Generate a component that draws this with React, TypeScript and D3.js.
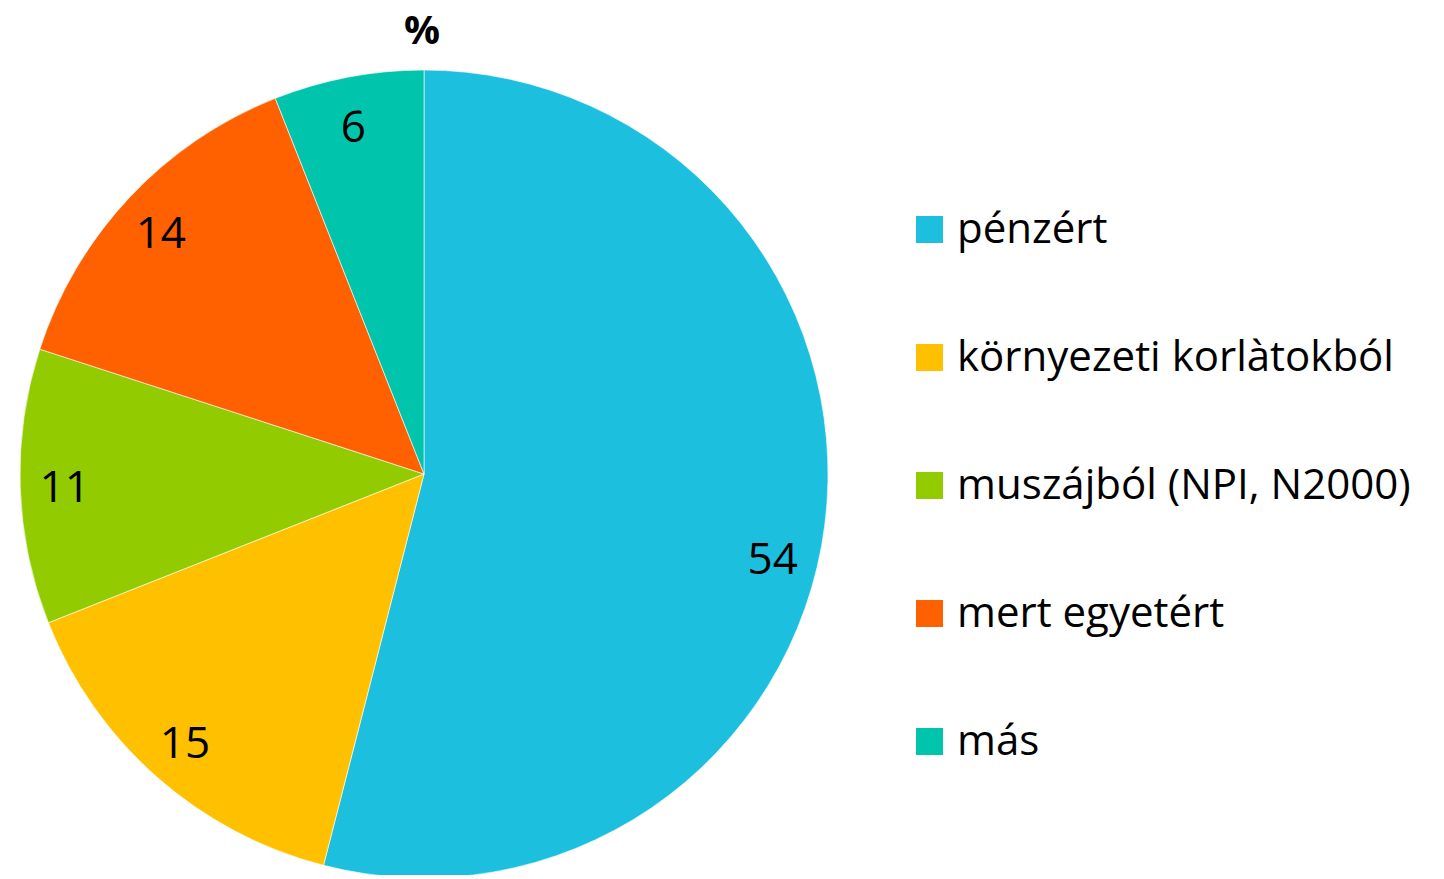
import React, { useEffect, useRef } from 'react';
import * as d3 from 'd3';

const categories = ['pénzért', 'környezeti korlàtokból', 'muszájból (NPI, N2000)', 'mert egyetért', 'más'];
const values = [54, 15, 11, 14, 6];
const colors = ['#1CBFDE', '#FFC000', '#92CC00', '#FF6000', '#00C4AB'];
const title = '%';

const App = () => {
  const ref = useRef<SVGSVGElement>(null);

  useEffect(() => {
    const width = 1444;
    const height = 879;
    const cx = 424;
    const cy = 474;
    const radius = 404;
    const font = "'Open Sans', 'Noto Sans', sans-serif";

    const svg = d3.select(ref.current);
    svg.selectAll('*').remove();
    svg.attr('width', width).attr('height', height);

    const data = categories.map((c, i) => ({ name: c, value: values[i], color: colors[i] }));

    const pie = d3.pie<any>().value((d) => d.value).sort(null);
    const arc = d3.arc<any>().innerRadius(0).outerRadius(radius);
    const labelArc = d3.arc<any>().innerRadius(radius * 0.88).outerRadius(radius * 0.88);

    const g = svg.append('g').attr('transform', `translate(${cx},${cy})`);
    const arcs = pie(data);

    g.selectAll('path')
      .data(arcs)
      .enter()
      .append('path')
      .attr('d', arc)
      .attr('fill', (d) => d.data.color)
      .attr('stroke', '#ffffff')
      .attr('stroke-opacity', 0.6)
      .attr('stroke-width', 1);

    g.selectAll('text.lbl')
      .data(arcs)
      .enter()
      .append('text')
      .attr('class', 'lbl')
      .attr('transform', (d) => {
        const [x, y] = labelArc.centroid(d);
        // the big slice label sits a little lower, like in the original
        const dy = d.data.value > 50 ? 38 : 0;
        return `translate(${x - 4},${y + dy})`;
      })
      .attr('text-anchor', 'middle')
      .attr('dominant-baseline', 'central')
      .style('font-family', font)
      .style('font-size', '44px')
      .style('fill', '#000')
      .text((d) => d.data.value);

    svg.append('text')
      .attr('x', 422)
      .attr('y', 44)
      .attr('text-anchor', 'middle')
      .style('font-family', font)
      .style('font-weight', 'bold')
      .style('font-size', '40px')
      .text(title);

    const legend = svg.append('g').attr('transform', 'translate(916,216)');
    const items = legend.selectAll('g')
      .data(data)
      .enter()
      .append('g')
      .attr('transform', (d, i) => `translate(0,${i * 128})`);
    items.append('rect')
      .attr('width', 27)
      .attr('height', 27)
      .attr('fill', (d) => d.color);
    items.append('text')
      .attr('x', 41)
      .attr('y', 27)
      .style('font-family', font)
      .style('font-size', '42px')
      .style('fill', '#000')
      .text((d) => d.name);
  });

  return (
    <div id='chartArea' style={{ margin: -8 }}>
      <svg ref={ref}></svg>
    </div>
  );
};

export default App;
